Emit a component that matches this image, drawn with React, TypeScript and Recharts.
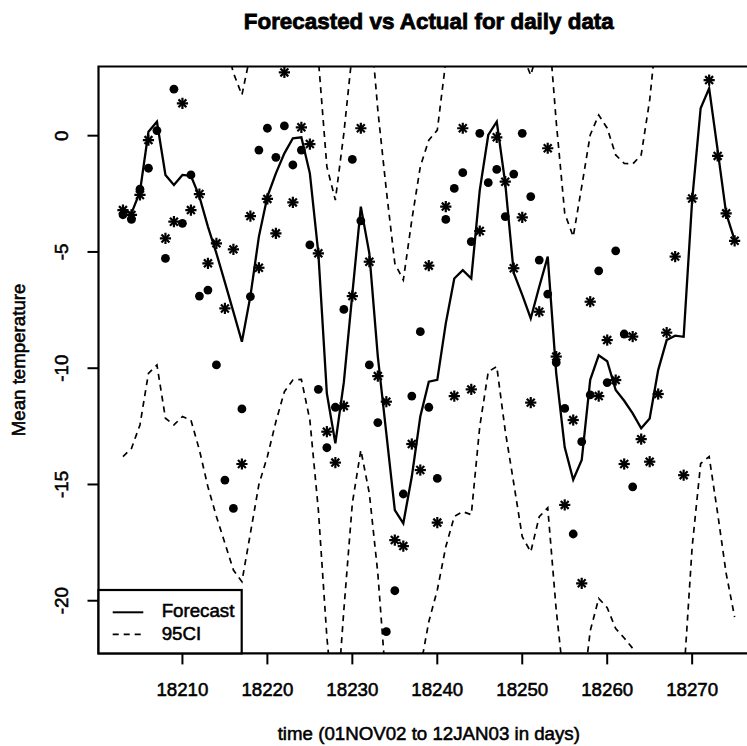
import React from 'react';
import { ComposedChart, Line, Scatter, XAxis, YAxis, ReferenceArea } from 'recharts';

// ---- data -------------------------------------------------------------
const days = [
  18203, 18204, 18205, 18206, 18207, 18208, 18209, 18210, 18211, 18212,
  18213, 18214, 18215, 18216, 18217, 18218, 18219, 18220, 18221, 18222,
  18223, 18224, 18225, 18226, 18227, 18228, 18229, 18230, 18231, 18232,
  18233, 18234, 18235, 18236, 18237, 18238, 18239, 18240, 18241, 18242,
  18243, 18244, 18245, 18246, 18247, 18248, 18249, 18250, 18251, 18252,
  18253, 18254, 18255, 18256, 18257, 18258, 18259, 18260, 18261, 18262,
  18263, 18264, 18265, 18266, 18267, 18268, 18269, 18270, 18271, 18272,
  18273, 18274, 18275,
];

const forecast = [
  -3.2, -3.34, -2.41, 0.17, 0.6, -1.69, -2.12, -1.69, -1.73, -2.62,
  -3.91, -5.06, -6.31, -7.58, -8.86, -6.9, -4.34, -2.62, -1.62, -0.76,
  -0.11, -0.07, -1.62, -5.06, -11.08, -13.23, -10.6, -6.8, -3.05, -5.06,
  -9.5, -12.8, -16.1, -16.67, -14.66, -12.08, -10.58, -10.5, -8.07, -6.14,
  -5.78, -6.14, -2.34, 0.03, 0.6, -2.05, -5.9, -6.85, -7.86, -6.5,
  -5.2, -10.22, -13.4, -14.8, -13.95, -10.5, -9.45, -9.7, -10.94, -11.4,
  -11.94, -12.58, -12.16, -10.08, -8.79, -8.6, -8.65, -2.77, 1.18, 2.04,
  -0.62, -3.34, -4.49,
];

const upper95 = [
  7.2, 7.1, 8.0, 10.6, 11.0, 8.7, 8.3, 8.7, 8.7, 7.8,
  6.5, 5.3, 4.1, 2.7, 1.75, 3.5, 6.1, 7.8, 8.8, 9.6,
  10.3, 10.3, 8.8, 3.3, -1.33, -2.77, 0.1, 3.6, 7.4, 5.4,
  1.1, -2.34, -5.49, -6.21, -3.63, -1.33, -0.19, 0.24, 3.2, 4.3,
  4.6, 4.3, 8.1, 10.4, 11.0, 8.4, 4.4, 3.5, 2.6, 3.9,
  5.2, 0.6, -3.34, -4.34, -2.19, 0.03, 0.89, 0.32, -0.83, -1.19,
  -1.22, -0.83, 1.53, 5.1, 5.5, 5.9, 6.0, 12.1, 16.5, 17.8,
  15.0, 12.2, 11.7,
];

const lower95 = [
  -13.8, -13.45, -12.44, -10.22, -9.86, -12.15, -12.44, -12.08, -12.23, -13.52,
  -15.1, -16.38, -17.53, -18.68, -19.18, -17.1, -15.0, -13.8, -12.3, -11.01,
  -10.51, -10.48, -12.23, -16.1, -21.55, -25.5, -20.4, -15.81, -13.52, -15.38,
  -18.82, -23.7, -26.5, -27.1, -25.1, -22.9, -20.9, -19.54, -17.68, -16.38,
  -16.17, -16.3, -12.5, -10.15, -9.93, -12.7, -14.95, -17.25, -17.9, -16.39,
  -16.0, -20.4, -23.8, -25.1, -24.4, -21.3, -19.9, -20.3, -21.2, -21.6,
  -22.05, -24.3, -25.9, -24.0, -23.1, -23.1, -23.35, -17.68, -14.1, -13.8,
  -16.24, -18.82, -20.7,
];

// temperatures drawn as asterisks
const starValues = [
  -3.2, -3.41, -2.55, -0.19, null, -4.42, -3.7, 1.39, -3.2, -2.51,
  -5.49, -4.63, -7.43, -4.89, -14.12, -3.46, -5.68, -2.72, -4.2, 2.72,
  -2.87, 0.36, -0.36, -5.06, -12.73, -14.06, -11.63, -6.9, 0.32, -5.42,
  -10.34, -11.44, -17.39, -17.65, -13.26, -14.38, -5.59, -16.64, -3.05, -11.2,
  0.32, -10.91, -4.1, null, -0.07, -1.98, -5.7, -3.51, -11.48, -7.57,
  -0.54, -9.5, -15.88, -12.23, -19.25, -7.14, -11.2, -8.79, -10.51, -14.12,
  -8.64, -13.05, -14.02, -11.11, -8.47, -5.2, -14.6, -2.7, null, 2.39,
  -0.87, -3.34, -4.52,
];

// temperatures drawn as filled dots
const dotValues = [
  -3.4, -3.6, -2.3, -1.4, 0.22, -5.28, 2.0, -3.77, -1.69, -6.9,
  -6.64, -9.86, -14.81, -16.03, -11.75, -6.92, -0.62, 0.32, -0.93, 0.42,
  -1.26, -0.62, -4.7, -10.91, -13.42, -11.68, -7.47, -1.02, -3.66, -9.86,
  -12.34, -21.33, -19.57, -15.41, -11.2, -8.43, -11.68, -14.74, -3.6, -2.27,
  -1.59, -4.56, 0.1, -2.02, -1.45, -3.48, -1.65, 0.1, -2.62, -5.35,
  -6.81, -9.76, -11.73, -17.13, -13.16, -11.15, -5.81, -10.62, -4.95, -8.53,
  -15.1, null, null, null, null, null, null, null, null, null,
  null, null, null,
];

const xTicks = [18210, 18220, 18230, 18240, 18250, 18260, 18270];
const yTicks = [0, -5, -10, -15, -20];

const rows = days.map((day, i) => ({
  day,
  forecast: forecast[i],
  upper: upper95[i],
  lower: lower95[i],
}));
const starRows = days
  .map((day, i) => ({ day, value: starValues[i] }))
  .filter((r) => r.value !== null);
const dotRows = days
  .map((day, i) => ({ day, value: dotValues[i] }))
  .filter((r) => r.value !== null);

// ---- layout -----------------------------------------------------------
const FONT = '"Liberation Sans", Arial, Helvetica, sans-serif';
const W = 747;
const H = 746;
const CHART_W = 780;
const Y_AXIS_W = 60;
const X_AXIS_H = 40;
const margin = { top: 66.5, right: 20.9, bottom: 52.6, left: 38.5 };
const plotLeft = margin.left + Y_AXIS_W;
const plotRight = CHART_W - margin.right;
const plotBottom = H - margin.bottom - X_AXIS_H;
const plotMidX = (plotLeft + plotRight) / 2;
const plotMidY = (margin.top + plotBottom) / 2;
const xDomain: [number, number] = [18200.12, 18277.88];
const yDomain: [number, number] = [-22.265, 2.975];
const LABEL_SIZE = 18.7;
const DASH = '6 5';

// heavier text strokes, as in the printed figure
const textStyle = {
  fontFamily: FONT,
  fontSize: LABEL_SIZE,
  fill: '#000',
  stroke: '#000',
  strokeWidth: 0.55,
} as const;

const XTick = (props: any) => {
  const { x, payload } = props;
  return (
    <text x={x} y={plotBottom + 42.6} textAnchor="middle" {...textStyle}>
      {payload.value}
    </text>
  );
};

const YTick = (props: any) => {
  const { y, payload } = props;
  return (
    <text
      transform={`translate(${plotLeft - 30.5}, ${y}) rotate(-90)`}
      textAnchor="middle"
      {...textStyle}
    >
      {String(payload.value)}
    </text>
  );
};

const StarMark = (props: any) => {
  const { cx, cy } = props;
  if (cx == null || cy == null) return null;
  const r = 5.6;
  const d = r * 0.7071;
  return (
    <g stroke="#000" strokeWidth={2.2}>
      <line x1={cx - r} y1={cy} x2={cx + r} y2={cy} />
      <line x1={cx} y1={cy - r} x2={cx} y2={cy + r} />
      <line x1={cx - d} y1={cy - d} x2={cx + d} y2={cy + d} />
      <line x1={cx - d} y1={cy + d} x2={cx + d} y2={cy - d} />
    </g>
  );
};

const DotMark = (props: any) => {
  const { cx, cy } = props;
  if (cx == null || cy == null) return null;
  return <circle cx={cx} cy={cy} r={4.4} fill="#000" />;
};

export default function App() {
  return (
    <div
      style={{
        position: 'absolute',
        left: 0,
        top: 0,
        width: W,
        height: H,
        overflow: 'hidden',
        background: '#fff',
      }}
    >
      <ComposedChart width={CHART_W} height={H} data={rows} margin={margin}>
        <XAxis
          dataKey="day"
          type="number"
          domain={xDomain}
          allowDataOverflow
          ticks={xTicks}
          interval={0}
          height={X_AXIS_H}
          axisLine={false}
          tickLine={{ stroke: '#000', strokeWidth: 2 }}
          tickSize={11}
          tick={<XTick />}
        />
        <YAxis
          type="number"
          domain={yDomain}
          allowDataOverflow
          ticks={yTicks}
          interval={0}
          width={Y_AXIS_W}
          axisLine={false}
          tickLine={{ stroke: '#000', strokeWidth: 2 }}
          tickSize={11}
          tick={<YTick />}
        />
        <Line
          type="linear"
          dataKey="upper"
          stroke="#000"
          strokeWidth={1.7}
          strokeDasharray={DASH}
          dot={false}
          activeDot={false}
          isAnimationActive={false}
        />
        <Line
          type="linear"
          dataKey="lower"
          stroke="#000"
          strokeWidth={1.7}
          strokeDasharray={DASH}
          dot={false}
          activeDot={false}
          isAnimationActive={false}
        />
        <Line
          type="linear"
          dataKey="forecast"
          stroke="#000"
          strokeWidth={2.3}
          dot={false}
          activeDot={false}
          isAnimationActive={false}
        />
        <Scatter data={dotRows} dataKey="value" shape={<DotMark />} isAnimationActive={false} />
        <Scatter data={starRows} dataKey="value" shape={<StarMark />} isAnimationActive={false} />
        <ReferenceArea
          x1={xDomain[0]}
          x2={xDomain[1]}
          y1={yDomain[0]}
          y2={yDomain[1]}
          fill="none"
          fillOpacity={0}
          stroke="#000"
          strokeWidth={2.2}
          ifOverflow="visible"
        />
      </ComposedChart>

      <svg
        width={W}
        height={H}
        style={{ position: 'absolute', left: 0, top: 0, pointerEvents: 'none' }}
      >
        <text
          x={plotMidX}
          y={28.5}
          textAnchor="middle"
          fontFamily={FONT}
          fontWeight="bold"
          fontSize={22.4}
          fill="#000"
          stroke="#000"
          strokeWidth={0.8}
        >
          Forecasted vs Actual for daily data
        </text>
        <text x={plotMidX} y={740} textAnchor="middle" {...textStyle}>
          time (01NOV02 to 12JAN03 in days)
        </text>
        <text transform={`translate(25, ${plotMidY}) rotate(-90)`} textAnchor="middle" {...textStyle}>
          Mean temperature
        </text>

        <g>
          <rect x={plotLeft} y={590} width={143.2} height={plotBottom - 590} fill="#fff" stroke="#000" strokeWidth={2.2} />
          <line x1={112.7} y1={612.3} x2={143.3} y2={612.3} stroke="#000" strokeWidth={2} />
          <line x1={112.7} y1={634.3} x2={143.3} y2={634.3} stroke="#000" strokeWidth={1.7} strokeDasharray={DASH} />
          <text x={161.7} y={617} {...textStyle}>Forecast</text>
          <text x={161.7} y={640} {...textStyle}>95CI</text>
        </g>
      </svg>
    </div>
  );
}
